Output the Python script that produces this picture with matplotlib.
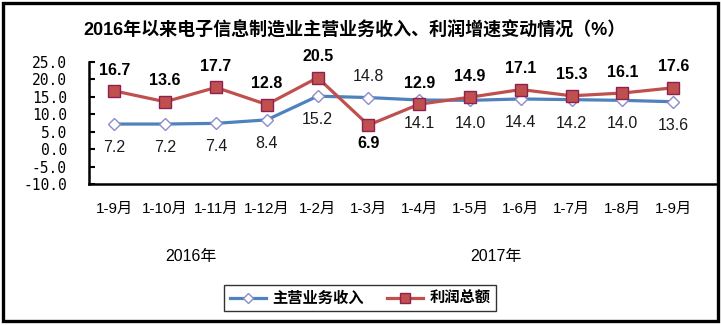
import matplotlib
matplotlib.use("Agg")
import matplotlib.pyplot as plt
from matplotlib.patches import Rectangle

plt.rcParams["font.family"] = ["Liberation Sans", "Noto Sans CJK SC", "DejaVu Sans"]

months = ["1-9月", "1-10月", "1-11月", "1-12月", "1-2月", "1-3月",
          "1-4月", "1-5月", "1-6月", "1-7月", "1-8月", "1-9月"]
revenue = [7.2, 7.2, 7.4, 8.4, 15.2, 14.8, 14.1, 14.0, 14.4, 14.2, 14.0, 13.6]
profit = [16.7, 13.6, 17.7, 12.8, 20.5, 6.9, 12.9, 14.9, 17.1, 15.3, 16.1, 17.6]
years = ["2016年", "2017年"]
year_centers = [1.5, 7.5]
yticks = [25.0, 20.0, 15.0, 10.0, 5.0, 0.0, -5.0, -10.0]

# labels that sit on the opposite side of their marker
revenue_above = {5}
profit_below = {5}

W, H = 721, 325
fig = plt.figure(figsize=(W / 100, H / 100), dpi=100)
ax = fig.add_axes([89 / W, (H - 184) / H, 629 / W, 122 / H])

x = list(range(len(months)))
ax.plot(x, revenue, color="#4F81BD", lw=2.3, marker="D", ms=6.5,
        mfc="white", mec="#8C8CC8", mew=1.0, label="主营业务收入", zorder=3)
ax.plot(x, profit, color="#C0504D", lw=2.3, marker="s", ms=9,
        mfc="#C0504D", mec="#8B2252", mew=1.0, label="利润总额", zorder=4)

for i, v in enumerate(revenue):
    off = 15 if i in revenue_above else -17
    ax.annotate(f"{v:.1f}", (i, v), xytext=(0, off), textcoords="offset points",
                ha="center", va="center", fontsize=11.5, color="#1a1a1a")
for i, v in enumerate(profit):
    off = -13 if i in profit_below else 15
    ax.annotate(f"{v:.1f}", (i, v), xytext=(0, off), textcoords="offset points",
                ha="center", va="center", fontsize=11.5, fontweight="bold",
                color="black", annotation_clip=False)

ax.set_xlim(-0.5, 11.88)
ax.set_ylim(-10, 25)
ax.set_xticks(x, labels=months)
ax.set_yticks(yticks, labels=[f"{t:.1f}" for t in yticks])
for lab in ax.get_yticklabels():
    lab.set_fontfamily("DejaVu Sans Mono")
    lab.set_fontsize(10.5)
for lab in ax.get_xticklabels():
    lab.set_fontsize(11)
ax.tick_params(axis="x", length=0, pad=13)
ax.tick_params(axis="y", direction="in", length=4, width=1.5, pad=16)
for side in ("top", "right"):
    ax.spines[side].set_visible(False)
for side in ("left", "bottom"):
    ax.spines[side].set_linewidth(1.8)

for yr, xc in zip(years, year_centers):
    ax.text(xc, (184 - 257) / 122, yr, transform=ax.get_xaxis_transform(),
            ha="center", va="center", fontsize=11.5)

fig.text(354 / W, (H - 30) / H,
         "2016年以来电子信息制造业主营业务收入、利润增速变动情况（%）",
         ha="center", va="center", fontsize=13, fontweight="bold")

leg = fig.legend(loc="center", bbox_to_anchor=(360 / W, (H - 298) / H), ncol=2,
                 prop={"family": ["Noto Sans CJK SC"], "weight": "bold", "size": 11},
                 fancybox=False, edgecolor="black", handlelength=2.4,
                 columnspacing=1.5, borderpad=0.35, handletextpad=0.4,
                 markerscale=0.8)
leg.get_frame().set_linewidth(1.0)

fig.patches.append(Rectangle((3 / W, 4 / H), 715 / W, 318 / H, fill=False,
                             lw=2.4, edgecolor="black", transform=fig.transFigure))

fig.savefig("out.png", dpi=100)
